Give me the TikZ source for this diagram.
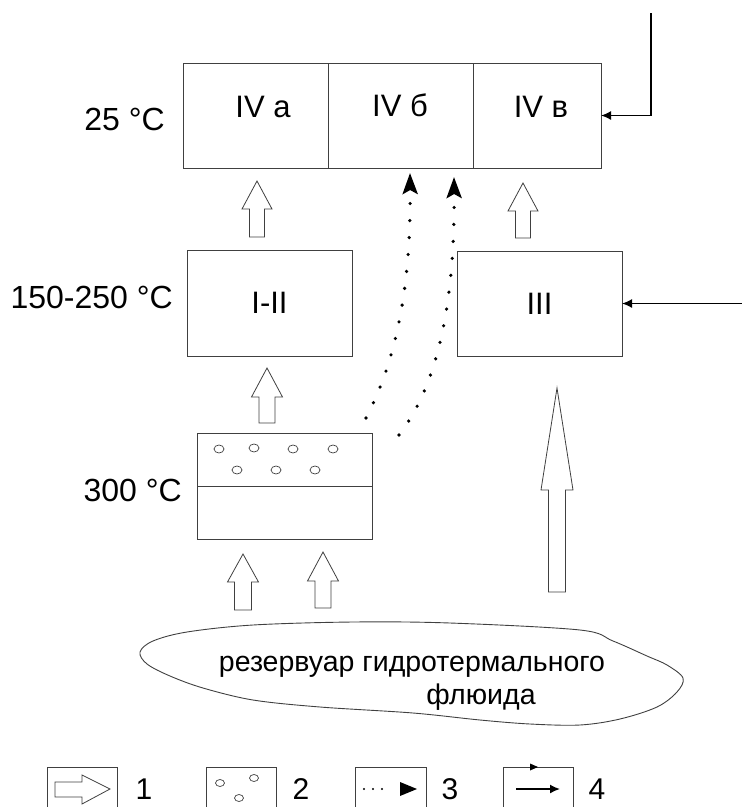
\documentclass[tikz,border=0pt]{standalone}
\usepackage{fontspec}
\setmainfont{Liberation Sans}
\usetikzlibrary{arrows.meta}
\newcommand\hup[6]{\draw[hollow] (#1,#2) -- ({#1+#5},#3) -- ({#1+#6},#3) -- ({#1+#6},#4) -- ({#1-#6},#4) -- ({#1-#6},#3) -- ({#1-#5},#3) -- cycle;}
\begin{document}
\begin{tikzpicture}[x=1pt,y=-1pt,
  box/.style={draw=black!75, line width=0.9pt, inner sep=0pt, outer sep=0pt},
  hollow/.style={draw=black!75, line width=0.8pt, fill=white, line join=miter},
  lbl/.style={font=\fontsize{32}{32}\selectfont, inner sep=0pt},
  leglbl/.style={font=\fontsize{30}{30}\selectfont, inner sep=0pt},
  boxlbl/.style={font=\fontsize{31}{31}\selectfont},
  inarrow/.style={draw=black, line width=1.6pt, -{Latex[length=10pt,width=9pt]}},
  dotarrow/.style={line width=3.6pt, line cap=round, dash pattern=on 0pt off 17pt, -{Stealth[length=21pt,width=15pt,inset=4pt]}}]
\useasboundingbox (0,0) rectangle (742,807);
\clip (0,0) rectangle (742,807);

% top row
\node[box, minimum width=145pt, minimum height=105pt] (ca) at (255.5,115.5) {};
\node[box, minimum width=145pt, minimum height=105pt] (cb) at (400.5,115.5) {};
\node[box, minimum width=128pt, minimum height=105pt] (cc) at (537,115.5) {};
\node[boxlbl, inner sep=0pt] (la) at (263,107) {IV а};
\node[boxlbl, inner sep=0pt] (lb) at (400,105) {IV б};
\node[boxlbl, inner sep=0pt] (lc) at (541,107) {IV в};

% middle row
\node[box, boxlbl, minimum width=165pt, minimum height=106pt] (b12) at (269.5,303) {I-II};
\node[box, boxlbl, minimum width=165pt, minimum height=105pt] (b3) at (539.5,303.5) {III};

% bottom box
\node[box, minimum width=175pt, minimum height=106pt] (bb) at (284.5,486) {};
\draw[black!75, line width=0.9pt] (bb.west) -- (bb.east);
\foreach \x/\y in {219/449, 254/448, 293/449, 333/449, 237/470, 276/470, 315/470}
  \draw[black!75, line width=0.7pt] (\x,\y) ellipse (5pt and 4pt);

% temperature labels
\node[lbl, anchor=east] (t1) at (165,119) {25 °C};
\node[lbl, anchor=east] (t2) at (173,297) {150-250 °C};
\node[lbl, anchor=east] (t3) at (182,490) {300 °C};

% hollow arrows
\hup{257}{181}{209}{237}{15}{7.5}
\hup{523}{183}{211}{238}{15}{7.5}
\hup{267}{368}{397}{423}{15.5}{8}
\hup{243}{554}{582}{610}{15.5}{8.5}
\hup{323}{552}{581}{608}{15.5}{8}
\hup{557}{388}{490}{592}{16}{8.5}

% dotted arrows
\coordinate (d1) at (366,418);
\coordinate (d2) at (399,435);
\coordinate (e1) at (410,173);
\coordinate (e2) at (454,177);
\draw[dotarrow] (d1) .. controls (392,368) and (411,300) .. (e1);
\draw[dotarrow] (d2) .. controls (432,392) and (455,320) .. (e2);

% incoming arrows
\coordinate (in1) at (651,13);
\coordinate (in2) at (742,303.5);
\draw[inarrow] (in1) |- (cc.east);
\draw[inarrow] (in2) -- (b3.east);

% reservoir
\draw[black!75, line width=0.9pt] plot[smooth cycle, tension=0.55] coordinates {
 (140,652) (153,641) (187,632) (253,625) (353,622) (450,623) (580,630)
 (613,641) (647,656) (667,665) (683,678) (677,692) (657,707) (620,719)
 (580,725) (530,724) (480,720) (413,713) (320,707) (253,700) (203,688)
 (170,676) (147,664)};
\node[font=\fontsize{28.5}{28.5}\selectfont, inner sep=0pt] (r1) at (412,667) {резервуар гидротермального};
\node[font=\fontsize{28.5}{28.5}\selectfont, inner sep=0pt] (r2) at (481,697) {флюида};

% legend
\foreach \a/\b in {47/117, 206/276, 355/426, 503/573}
  \draw[black!75, line width=0.9pt] (\a,812) -- (\a,767) -- (\b,767) -- (\b,812);
\draw[hollow] (55,782) -- (82,782) -- (82,775) -- (110,789) -- (82,804) -- (82,797) -- (55,797) -- cycle;
\node[leglbl] (n1) at (144,789) {1};
\foreach \x/\y in {220/783, 254/778, 239/798}
  \draw[black!75, line width=0.7pt] (\x,\y) ellipse (4.5pt and 3.5pt);
\node[leglbl] (n2) at (301,789) {2};
\foreach \x in {364,373,382}
  \fill (\x,789) circle (1.1pt);
\fill (400,782) -- (417,789) -- (400,796) -- cycle;
\node[leglbl] (n3) at (450,789) {3};
\fill (530,763.5) -- (538,767) -- (530,770.5) -- cycle;
\coordinate (l4a) at (516,789);
\coordinate (l4b) at (560,789);
\draw[inarrow] (l4a) -- (l4b);
\node[leglbl] (n4) at (597,789) {4};
\end{tikzpicture}
\end{document}
